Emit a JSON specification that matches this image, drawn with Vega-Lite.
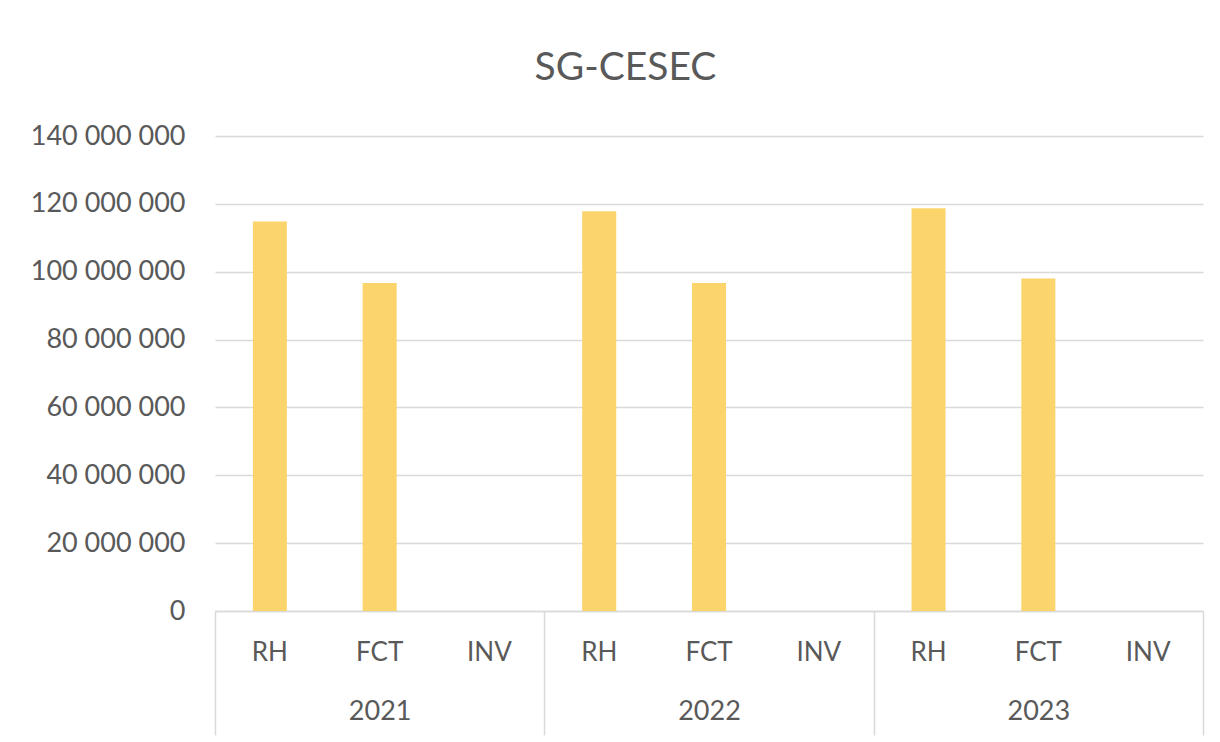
{
  "$schema": "https://vega.github.io/schema/vega-lite/v6.json",
  "width": 988,
  "height": 475,
  "autosize": {"type": "none"},
  "padding": {"left": 215, "top": 136, "right": 17, "bottom": 131},
  "background": "white",
  "config": {
    "locale": {"number": {"decimal": ",", "thousands": " ", "grouping": [3], "currency": ["", " €"]}},
    "view": {"stroke": null},
    "font": "Lato"
  },
  "data": {"values": [
    {"year": "2021", "cat": "RH", "key": "2021|RH", "value": 114800000},
    {"year": "2021", "cat": "FCT", "key": "2021|FCT", "value": 96700000},
    {"year": "2021", "cat": "INV", "key": "2021|INV", "value": 0},
    {"year": "2022", "cat": "RH", "key": "2022|RH", "value": 117800000},
    {"year": "2022", "cat": "FCT", "key": "2022|FCT", "value": 96700000},
    {"year": "2022", "cat": "INV", "key": "2022|INV", "value": 0},
    {"year": "2023", "cat": "RH", "key": "2023|RH", "value": 118700000},
    {"year": "2023", "cat": "FCT", "key": "2023|FCT", "value": 98000000},
    {"year": "2023", "cat": "INV", "key": "2023|INV", "value": 0}
  ]},
  "layer": [
    {
      "mark": {"type": "bar", "color": "#FBD46B", "width": {"band": 0.31}},
      "encoding": {
        "x": {"field": "key", "type": "nominal", "sort": null,
          "scale": {"paddingInner": 0, "paddingOuter": 0},
          "axis": {"title": null, "orient": "bottom", "labelExpr": "split(datum.label, '|')[1]", "labelAngle": 0,
            "labelFontSize": 26, "labelColor": "#595959", "labelBaseline": "middle", "labelPadding": 41,
            "ticks": false, "domain": true, "domainColor": "#d9d9d9", "domainWidth": 1.5, "grid": false}},
        "y": {"field": "value", "type": "quantitative",
          "scale": {"domain": [0, 140000000], "nice": false},
          "axis": {"title": "SG-CESEC", "titleAngle": 0, "titleX": 410, "titleY": -69, "titleAlign": "center",
            "titleBaseline": "middle", "titleFontSize": 39, "titleFontWeight": "normal", "titleColor": "#595959", "titleFont": "Lato",
            "values": [0, 20000000, 40000000, 60000000, 80000000, 100000000, 120000000, 140000000],
            "format": ",d", "labelFontSize": 27, "labelColor": "#595959", "labelPadding": 30,
            "domain": false, "ticks": false, "grid": true, "gridColor": "#d9d9d9", "gridWidth": 1.5}}
      }
    },
    {
      "mark": {"type": "bar", "opacity": 0},
      "encoding": {
        "x": {"field": "year", "type": "nominal", "sort": null,
          "scale": {"paddingInner": 0, "paddingOuter": 0},
          "axis": {"title": null, "orient": "bottom", "labelAngle": 0, "labelFontSize": 27, "labelColor": "#595959",
            "labelBaseline": "middle", "labelPadding": -24, "ticks": true, "tickBand": "extent", "tickSize": 124,
            "tickColor": "#d9d9d9", "tickWidth": 1.5, "domain": false, "grid": false}},
        "y": {"field": "value", "type": "quantitative"}
      }
    }
  ],
  "resolve": {"scale": {"x": "independent"}, "axis": {"x": "independent"}}
}
